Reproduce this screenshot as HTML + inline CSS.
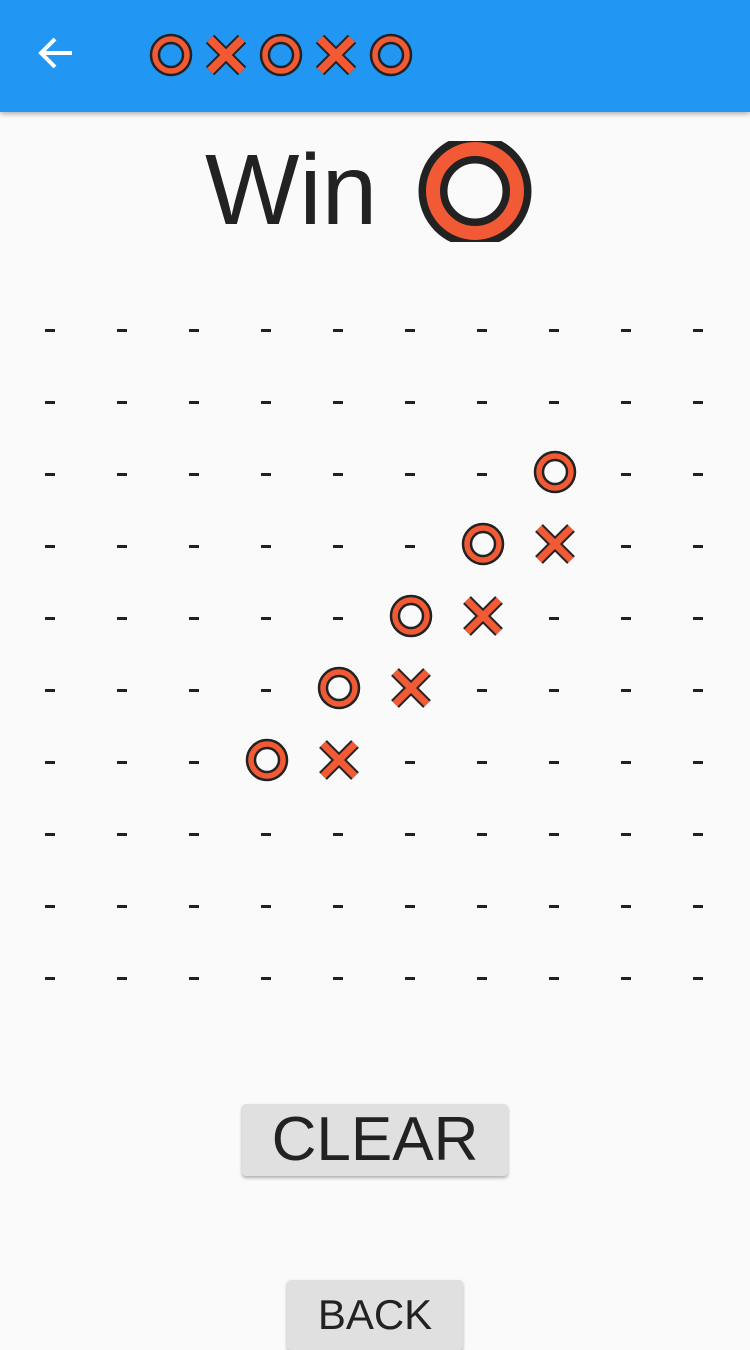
<!DOCTYPE html>
<html><head><meta charset="utf-8"><style>
body{margin:0;width:750px;height:1334px;overflow:hidden;background:#fafafa;font-family:"Liberation Sans",sans-serif;position:relative}
#bar{position:absolute;left:0;top:0;width:750px;height:112px;background:#2196f3;box-shadow:0 2px 5px rgba(0,0,0,.3)}
.btn{position:absolute;background:#e0e0e0;border-radius:4px;box-shadow:0 2px 3px rgba(0,0,0,.3);text-align:center;color:#222}
</style></head><body>
<div id="bar">
<svg width="750" height="112" style="position:absolute;left:0;top:0">
<g stroke="#fff" stroke-width="4" fill="none">
<path d="M72 53H42M55 39L41 53L55 67"/></g>
<g id="titleMarks"></g>
</svg></div>
<div style="position:absolute;left:205px;top:130px;font-size:100px;color:#222;line-height:120px">Win</div>
<svg width="750" height="1334" style="position:absolute;left:0;top:0;pointer-events:none">
<defs><clipPath id="wc"><rect x="400" y="141" width="160" height="101"/></clipPath></defs>
<g clip-path="url(#wc)">
<circle cx="475" cy="191" r="42" fill="none" stroke="#222" stroke-width="29"/>
<circle cx="475" cy="191" r="42" fill="none" stroke="#f15a35" stroke-width="14"/>
</g>
<g id="board"></g>
</svg>
<div class="btn" style="left:242px;top:1104px;width:266px;height:72px;font-size:62px;line-height:72px">CLEAR</div>
<div class="btn" style="left:287px;top:1280px;width:176px;height:70px;font-size:42px;line-height:70px">BACK</div>
<script>
const titleSeq=['O','X','O','X','O'];
const boardRows=[
"..........",
"..........",
".......O..",
"......OX..",
".....OX...",
"....OX....",
"...OX.....",
"..........",
"..........",
".........."];
const NS="http://www.w3.org/2000/svg";
function mk(t,a,p){const e=document.createElementNS(NS,t);for(const k in a)e.setAttribute(k,a[k]);p.appendChild(e);return e;}
function drawO(g,cx,cy,r,w){mk('circle',{cx,cy,r,fill:'none',stroke:'#222','stroke-width':w+5},g);mk('circle',{cx,cy,r,fill:'none',stroke:'#f15a35','stroke-width':w},g);}
function drawX(g,cx,cy,s,w){const d=`M${cx-s} ${cy-s}L${cx+s} ${cy+s}M${cx+s} ${cy-s}L${cx-s} ${cy+s}`;mk('path',{d,stroke:'#222','stroke-width':w+4},g);mk('path',{d,stroke:'#f15a35','stroke-width':w},g);}
const tm=document.getElementById('titleMarks');
titleSeq.forEach((m,i)=>{const g=mk('g',{},tm);


const cx=171+55*i;if(m==='O')drawO(g,cx,55,16,5.5);else drawX(g,cx,55,16,8);});
const board=document.getElementById('board');
boardRows.forEach((row,j)=>{[...row].forEach((c,i)=>{const cx=50+72*i,cy=330+72*j;const g=mk('g',{},board);


if(c==='O')drawO(g,cx+1,cy-2,16,5.5);else if(c==='X')drawX(g,cx+1,cy-2,16,7);else mk('rect',{x:cx-5,y:cy-1,width:10,height:3,fill:'#222'},g);});});
</script>
</body></html>
